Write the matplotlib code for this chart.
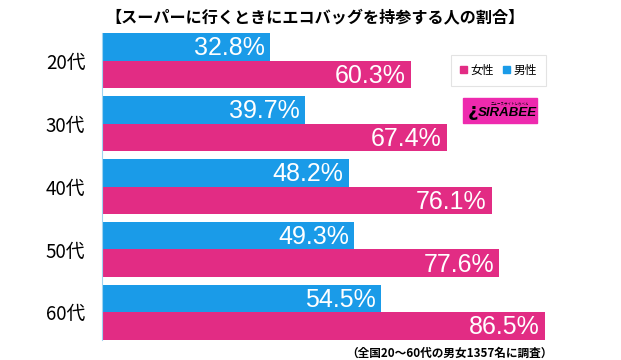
import matplotlib.pyplot as plt
import matplotlib.patches as mpatches
import numpy as np

plt.rcParams['font.family'] = ['Noto Sans CJK JP', 'DejaVu Sans']

ages = ["20代", "30代", "40代", "50代", "60代"]
male = [32.8, 39.7, 48.2, 49.3, 54.5]
female = [60.3, 67.4, 76.1, 77.6, 86.5]

BLUE = "#1A9BE8"
PINK = "#E22C84"

fig = plt.figure(figsize=(6.21, 3.6), dpi=100)
ax = fig.add_axes([102 / 621, 20 / 360, 512 / 621, 307 / 360])

y = np.arange(len(ages))
h = 0.437
ax.barh(y - h / 2, male, height=h, color=BLUE, label="男性")
ax.barh(y + h / 2, female, height=h, color=PINK, label="女性")

for i in range(len(ages)):
    ax.text(male[i] - 1.0, y[i] - h / 2 + 0.02, f"{male[i]:.1f}%", color="white",
            ha="right", va="center", fontsize=18, family=["Liberation Sans"])
    ax.text(female[i] - 1.0, y[i] + h / 2 + 0.02, f"{female[i]:.1f}%", color="white",
            ha="right", va="center", fontsize=18, family=["Liberation Sans"])

ax.set_xlim(0, 100)
ax.set_ylim(len(ages) - 1 + h, -h)
ax.set_yticks(y)
ax.set_yticklabels(ages, fontsize=13.5)
ax.tick_params(axis="y", length=0, pad=12)
ax.set_xticks([])
for s in ["top", "right", "bottom"]:
    ax.spines[s].set_visible(False)
ax.spines["left"].set_color("#9FD3F0")
ax.spines["left"].set_linewidth(0.8)

fig.text(315 / 621, 1 - 17 / 360, "【スーパーに行くときにエコバッグを持参する人の割合】",
         ha="center", va="center", fontsize=11.6, fontweight="bold")
fig.text(553 / 621, 1 - 353 / 360, "（全国20〜60代の男女1357名に調査）",
         ha="right", va="center", fontsize=8.4, fontweight="bold")

handles = [mpatches.Patch(color=PINK, label="女性"), mpatches.Patch(color=BLUE, label="男性")]
leg = fig.legend(handles=handles, loc="center", bbox_to_anchor=(498.5 / 621, 1 - 70.5 / 360),
                 ncol=2, fontsize=8.5, frameon=True, fancybox=False, handlelength=0.55,
                 handleheight=0.55, handletextpad=0.3, columnspacing=0.8, borderpad=0.75)
leg.get_frame().set_edgecolor("#DDDDDD")
leg.get_frame().set_linewidth(0.8)

logo = mpatches.Rectangle((463 / 621, 1 - 123 / 360), 74 / 621, 25 / 360,
                          transform=fig.transFigure, color="#EE2AAE", zorder=5)
fig.patches.append(logo)
fig.text(507 / 621, 1 - 113.5 / 360, "SIRABEE", ha="center", va="center", fontsize=9.5,
         fontweight="bold", style="italic", color="black", family=["Liberation Sans"],
         zorder=6)
fig.text(510 / 621, 1 - 103 / 360, "ニュースサイトしらべぇ", ha="center", va="center",
         fontsize=2.5, color="black", zorder=6)
fig.text(473 / 621, 1 - 111 / 360, "¿", ha="center", va="center", fontsize=13,
         fontweight="bold", color="black", family=["DejaVu Sans"], zorder=6)

fig.savefig("out.png", dpi=100)
